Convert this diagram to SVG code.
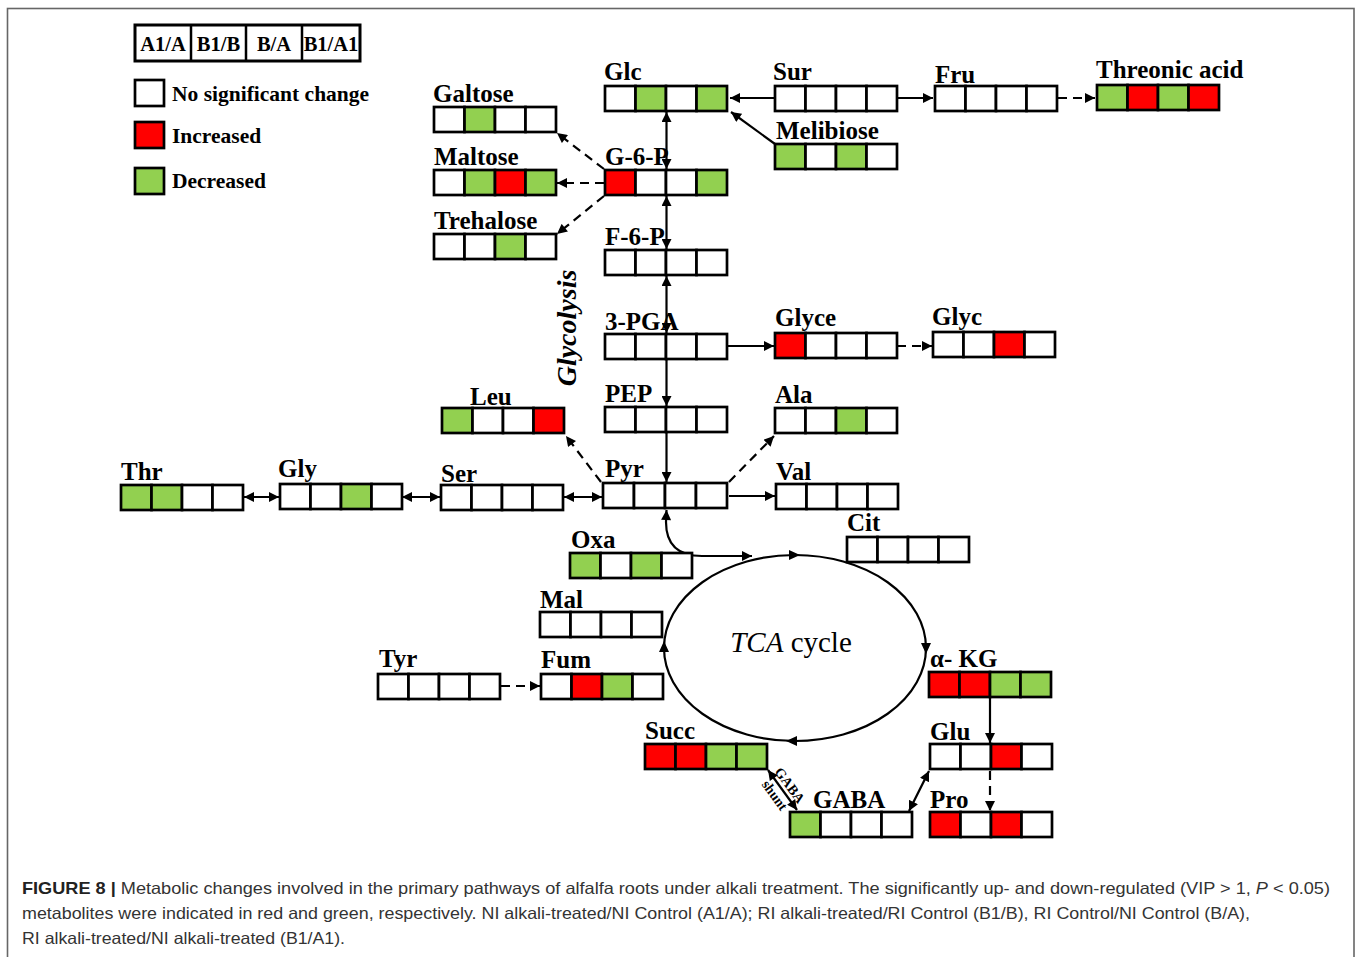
<svg xmlns="http://www.w3.org/2000/svg" width="1358" height="957" viewBox="0 0 1358 957">
<defs>
<style>
.c rect{stroke:#000;stroke-width:2.7}
.w{fill:#fff}.r{fill:#ff0000}.g{fill:#92d050}
.lb{font-family:"Liberation Serif","Times New Roman",serif;font-weight:bold;font-size:25px;fill:#000}
.lg{font-family:"Liberation Serif","Times New Roman",serif;font-weight:bold;font-size:21.5px;fill:#000}
.ln{fill:none;stroke:#000;stroke-width:2.2}
.d{stroke-dasharray:9 6}
.cap{font-family:"Liberation Sans",Arial,sans-serif;font-size:16.5px;fill:#333}
</style>
<marker id="a" viewBox="0 0 10 10" refX="10" refY="5" markerWidth="11" markerHeight="10" markerUnits="userSpaceOnUse" orient="auto-start-reverse"><path d="M0,0 L10,5 L0,10 z" fill="#000"/></marker>
</defs>
<rect x="0" y="0" width="1358" height="957" fill="#fff"/>
<rect x="7.5" y="8.5" width="1346.5" height="970" fill="none" stroke="#666" stroke-width="1.6"/>

<g id="legend">
<rect x="135" y="25" width="225" height="36" fill="#fff" stroke="#000" stroke-width="3"/>
<path d="M191 25V61M246 25V61M302 25V61" stroke="#000" stroke-width="2.5"/>
<text class="lg" x="163" y="51" text-anchor="middle" style="font-size:20.5px">A1/A</text>
<text class="lg" x="218.5" y="51" text-anchor="middle" style="font-size:20.5px">B1/B</text>
<text class="lg" x="274" y="51" text-anchor="middle" style="font-size:20.5px">B/A</text>
<text class="lg" x="331" y="51" text-anchor="middle" style="font-size:20.5px">B1/A1</text>
<g class="c"><rect class="w" x="135" y="80" width="29" height="26"/><rect class="r" x="135" y="122" width="29" height="26"/><rect class="g" x="135" y="168" width="29" height="26"/></g>
<text class="lg" x="172" y="101">No significant change</text>
<text class="lg" x="172" y="143">Increased</text>
<text class="lg" x="172" y="188">Decreased</text>
</g>

<g id="connectors">
<path class="ln" d="M775 98L730 98" marker-end="url(#a)"/>
<path class="ln" d="M897 98L933 98" marker-end="url(#a)"/>
<path class="ln d" d="M1058 98L1095 98" marker-end="url(#a)"/>
<path class="ln" d="M775 144L731 112" marker-end="url(#a)"/>
<path class="ln" d="M666.5 112L666.5 169" marker-start="url(#a)" marker-end="url(#a)"/>
<path class="ln d" d="M604 169L557 133" marker-end="url(#a)"/>
<path class="ln d" d="M604 183L557 183" marker-end="url(#a)"/>
<path class="ln d" d="M604 196L557 234" marker-end="url(#a)"/>
<path class="ln" d="M666.5 196L666.5 249" marker-start="url(#a)" marker-end="url(#a)"/>
<path class="ln" d="M666.5 276L666.5 333" marker-start="url(#a)" marker-end="url(#a)"/>
<path class="ln" d="M727 346L774 346" marker-end="url(#a)"/>
<path class="ln d" d="M897 346L932 346" marker-end="url(#a)"/>
<path class="ln" d="M666.5 359L666.5 406" marker-end="url(#a)"/>
<path class="ln" d="M666.5 432L666.5 482" marker-end="url(#a)"/>
<path class="ln d" d="M601 482L566 436" marker-end="url(#a)"/>
<path class="ln d" d="M729 482L774 436" marker-end="url(#a)"/>
<path class="ln" d="M729 496L775 496" marker-end="url(#a)"/>
<path class="ln" d="M564 497L602 497" marker-start="url(#a)" marker-end="url(#a)"/>
<path class="ln" d="M402 497L440 497" marker-start="url(#a)" marker-end="url(#a)"/>
<path class="ln" d="M244 497L279 497" marker-start="url(#a)" marker-end="url(#a)"/>
<path class="ln" d="M752 556L702 556Q666 556 666 522L666.5 510" marker-start="url(#a)" marker-end="url(#a)"/>
<ellipse class="ln" cx="795" cy="648" rx="131" ry="93"/>
<path d="M800 555L789 550L789 560z M926 654L921 643L931 643z M786 741L797 736L797 746z M664 641L659 652L669 652z" fill="#000"/>
<path class="ln d" d="M501 686L540 686" marker-end="url(#a)"/>
<path class="ln" d="M990 698L990 743" marker-end="url(#a)"/>
<path class="ln d" d="M990 771L990 811" marker-end="url(#a)"/>
<path class="ln" d="M929 771L909 811" marker-start="url(#a)" marker-end="url(#a)"/>
<path class="ln" d="M768 770L797 810" marker-start="url(#a)" marker-end="url(#a)"/>
<text class="lb" style="font-size:14px" transform="translate(786,788) rotate(54)" text-anchor="middle">GABA</text>
<text class="lb" style="font-size:14px" transform="translate(771,798) rotate(54)" text-anchor="middle">shunt</text>
</g>

<g id="glycolysis"><text class="lb" style="font-size:28px;font-style:italic" transform="translate(576,328) rotate(-90)" text-anchor="middle">Glycolysis</text></g>
<g id="tca"><text x="791" y="652" text-anchor="middle" style="font-family:'Liberation Serif','Times New Roman',serif;font-size:29px"><tspan font-style="italic">TCA</tspan> cycle</text></g>

<g id="Glc" class="c" transform="translate(605,86)"><rect class="w" width="30.5" height="25"/><rect class="g" x="30.5" width="30.5" height="25"/><rect class="w" x="61" width="30.5" height="25"/><rect class="g" x="91.5" width="30.5" height="25"/><text class="lb" x="-1" y="-6">Glc</text></g>
<g id="Sur" class="c" transform="translate(775,86)"><rect class="w" width="30.5" height="25"/><rect class="w" x="30.5" width="30.5" height="25"/><rect class="w" x="61" width="30.5" height="25"/><rect class="w" x="91.5" width="30.5" height="25"/><text class="lb" x="-2" y="-6">Sur</text></g>
<g id="Fru" class="c" transform="translate(935,86)"><rect class="w" width="30.5" height="25"/><rect class="w" x="30.5" width="30.5" height="25"/><rect class="w" x="61" width="30.5" height="25"/><rect class="w" x="91.5" width="30.5" height="25"/><text class="lb" x="0" y="-3">Fru</text></g>
<g id="Threonic" class="c" transform="translate(1097,85)"><rect class="g" width="30.5" height="25"/><rect class="r" x="30.5" width="30.5" height="25"/><rect class="g" x="61" width="30.5" height="25"/><rect class="r" x="91.5" width="30.5" height="25"/><text class="lb" x="-1" y="-7">Threonic acid</text></g>
<g id="Galtose" class="c" transform="translate(434,107)"><rect class="w" width="30.5" height="25"/><rect class="g" x="30.5" width="30.5" height="25"/><rect class="w" x="61" width="30.5" height="25"/><rect class="w" x="91.5" width="30.5" height="25"/><text class="lb" x="-1" y="-5">Galtose</text></g>
<g id="Melibiose" class="c" transform="translate(775,144)"><rect class="g" width="30.5" height="25"/><rect class="w" x="30.5" width="30.5" height="25"/><rect class="g" x="61" width="30.5" height="25"/><rect class="w" x="91.5" width="30.5" height="25"/><text class="lb" x="1" y="-5">Melibiose</text></g>
<g id="Maltose" class="c" transform="translate(434,170)"><rect class="w" width="30.5" height="25"/><rect class="g" x="30.5" width="30.5" height="25"/><rect class="r" x="61" width="30.5" height="25"/><rect class="g" x="91.5" width="30.5" height="25"/><text class="lb" x="0" y="-5">Maltose</text></g>
<g id="G6P" class="c" transform="translate(605,170)"><rect class="r" width="30.5" height="25"/><rect class="w" x="30.5" width="30.5" height="25"/><rect class="w" x="61" width="30.5" height="25"/><rect class="g" x="91.5" width="30.5" height="25"/><text class="lb" x="0" y="-5">G-6-P</text></g>
<g id="Trehalose" class="c" transform="translate(434,234)"><rect class="w" width="30.5" height="25"/><rect class="w" x="30.5" width="30.5" height="25"/><rect class="g" x="61" width="30.5" height="25"/><rect class="w" x="91.5" width="30.5" height="25"/><text class="lb" x="0" y="-5">Trehalose</text></g>
<g id="F6P" class="c" transform="translate(605,250)"><rect class="w" width="30.5" height="25"/><rect class="w" x="30.5" width="30.5" height="25"/><rect class="w" x="61" width="30.5" height="25"/><rect class="w" x="91.5" width="30.5" height="25"/><text class="lb" x="0" y="-5">F-6-P</text></g>
<g id="PGA" class="c" transform="translate(605,334)"><rect class="w" width="30.5" height="25"/><rect class="w" x="30.5" width="30.5" height="25"/><rect class="w" x="61" width="30.5" height="25"/><rect class="w" x="91.5" width="30.5" height="25"/><text class="lb" x="0" y="-4">3-PGA</text></g>
<g id="Glyce" class="c" transform="translate(775,333)"><rect class="r" width="30.5" height="25"/><rect class="w" x="30.5" width="30.5" height="25"/><rect class="w" x="61" width="30.5" height="25"/><rect class="w" x="91.5" width="30.5" height="25"/><text class="lb" x="0" y="-7">Glyce</text></g>
<g id="Glyc" class="c" transform="translate(933,332)"><rect class="w" width="30.5" height="25"/><rect class="w" x="30.5" width="30.5" height="25"/><rect class="r" x="61" width="30.5" height="25"/><rect class="w" x="91.5" width="30.5" height="25"/><text class="lb" x="-1" y="-7">Glyc</text></g>
<g id="Leu" class="c" transform="translate(442,408)"><rect class="g" width="30.5" height="25"/><rect class="w" x="30.5" width="30.5" height="25"/><rect class="w" x="61" width="30.5" height="25"/><rect class="r" x="91.5" width="30.5" height="25"/><text class="lb" x="28" y="-3">Leu</text></g>
<g id="PEP" class="c" transform="translate(605,407)"><rect class="w" width="30.5" height="25"/><rect class="w" x="30.5" width="30.5" height="25"/><rect class="w" x="61" width="30.5" height="25"/><rect class="w" x="91.5" width="30.5" height="25"/><text class="lb" x="0" y="-5">PEP</text></g>
<g id="Ala" class="c" transform="translate(775,408)"><rect class="w" width="30.5" height="25"/><rect class="w" x="30.5" width="30.5" height="25"/><rect class="g" x="61" width="30.5" height="25"/><rect class="w" x="91.5" width="30.5" height="25"/><text class="lb" x="0" y="-5">Ala</text></g>
<g id="Thr" class="c" transform="translate(121,485)"><rect class="g" width="30.5" height="25"/><rect class="g" x="30.5" width="30.5" height="25"/><rect class="w" x="61" width="30.5" height="25"/><rect class="w" x="91.5" width="30.5" height="25"/><text class="lb" x="0" y="-5">Thr</text></g>
<g id="Gly" class="c" transform="translate(280,484)"><rect class="w" width="30.5" height="25"/><rect class="w" x="30.5" width="30.5" height="25"/><rect class="g" x="61" width="30.5" height="25"/><rect class="w" x="91.5" width="30.5" height="25"/><text class="lb" x="-2" y="-7">Gly</text></g>
<g id="Ser" class="c" transform="translate(441,485)"><rect class="w" width="30.5" height="25"/><rect class="w" x="30.5" width="30.5" height="25"/><rect class="w" x="61" width="30.5" height="25"/><rect class="w" x="91.5" width="30.5" height="25"/><text class="lb" x="0" y="-3">Ser</text></g>
<g id="Pyr" class="c" transform="translate(603,483)"><rect class="w" width="31" height="25"/><rect class="w" x="31" width="31" height="25"/><rect class="w" x="62" width="31" height="25"/><rect class="w" x="93" width="31" height="25"/><text class="lb" x="2" y="-6">Pyr</text></g>
<g id="Val" class="c" transform="translate(776,484)"><rect class="w" width="30.5" height="25"/><rect class="w" x="30.5" width="30.5" height="25"/><rect class="w" x="61" width="30.5" height="25"/><rect class="w" x="91.5" width="30.5" height="25"/><text class="lb" x="0" y="-4">Val</text></g>
<g id="Cit" class="c" transform="translate(847,537)"><rect class="w" width="30.5" height="25"/><rect class="w" x="30.5" width="30.5" height="25"/><rect class="w" x="61" width="30.5" height="25"/><rect class="w" x="91.5" width="30.5" height="25"/><text class="lb" x="0" y="-6">Cit</text></g>
<g id="Oxa" class="c" transform="translate(570,553)"><rect class="g" width="30.5" height="25"/><rect class="w" x="30.5" width="30.5" height="25"/><rect class="g" x="61" width="30.5" height="25"/><rect class="w" x="91.5" width="30.5" height="25"/><text class="lb" x="1" y="-5">Oxa</text></g>
<g id="Mal" class="c" transform="translate(540,612)"><rect class="w" width="30.5" height="25"/><rect class="w" x="30.5" width="30.5" height="25"/><rect class="w" x="61" width="30.5" height="25"/><rect class="w" x="91.5" width="30.5" height="25"/><text class="lb" x="0" y="-4">Mal</text></g>
<g id="Tyr" class="c" transform="translate(378,674)"><rect class="w" width="30.5" height="25"/><rect class="w" x="30.5" width="30.5" height="25"/><rect class="w" x="61" width="30.5" height="25"/><rect class="w" x="91.5" width="30.5" height="25"/><text class="lb" x="1" y="-7">Tyr</text></g>
<g id="Fum" class="c" transform="translate(541,674)"><rect class="w" width="30.5" height="25"/><rect class="r" x="30.5" width="30.5" height="25"/><rect class="g" x="61" width="30.5" height="25"/><rect class="w" x="91.5" width="30.5" height="25"/><text class="lb" x="0" y="-6">Fum</text></g>
<g id="aKG" class="c" transform="translate(929,672)"><rect class="r" width="30.5" height="25"/><rect class="r" x="30.5" width="30.5" height="25"/><rect class="g" x="61" width="30.5" height="25"/><rect class="g" x="91.5" width="30.5" height="25"/><text class="lb" x="1" y="-5">α- KG</text></g>
<g id="Succ" class="c" transform="translate(645,744)"><rect class="r" width="30.5" height="25"/><rect class="r" x="30.5" width="30.5" height="25"/><rect class="g" x="61" width="30.5" height="25"/><rect class="g" x="91.5" width="30.5" height="25"/><text class="lb" x="0" y="-5">Succ</text></g>
<g id="Glu" class="c" transform="translate(930,744)"><rect class="w" width="30.5" height="25"/><rect class="w" x="30.5" width="30.5" height="25"/><rect class="r" x="61" width="30.5" height="25"/><rect class="w" x="91.5" width="30.5" height="25"/><text class="lb" x="0" y="-4">Glu</text></g>
<g id="GABA" class="c" transform="translate(790,812)"><rect class="g" width="30.5" height="25"/><rect class="w" x="30.5" width="30.5" height="25"/><rect class="w" x="61" width="30.5" height="25"/><rect class="w" x="91.5" width="30.5" height="25"/><text class="lb" x="23" y="-4">GABA</text></g>
<g id="Pro" class="c" transform="translate(930,812)"><rect class="r" width="30.5" height="25"/><rect class="w" x="30.5" width="30.5" height="25"/><rect class="r" x="61" width="30.5" height="25"/><rect class="w" x="91.5" width="30.5" height="25"/><text class="lb" x="0" y="-4">Pro</text></g>

<g id="caption">
<text class="cap" x="22" y="894" textLength="1308" lengthAdjust="spacingAndGlyphs"><tspan font-weight="bold" fill="#222">FIGURE 8 |</tspan> Metabolic changes involved in the primary pathways of alfalfa roots under alkali treatment. The significantly up- and down-regulated (VIP &gt; 1, <tspan font-style="italic">P</tspan> &lt; 0.05)</text>
<text class="cap" x="22" y="919" textLength="1228" lengthAdjust="spacingAndGlyphs">metabolites were indicated in red and green, respectively. NI alkali-treated/NI Control (A1/A); RI alkali-treated/RI Control (B1/B), RI Control/NI Control (B/A),</text>
<text class="cap" x="22" y="944" textLength="323" lengthAdjust="spacingAndGlyphs">RI alkali-treated/NI alkali-treated (B1/A1).</text>
</g>
</svg>
